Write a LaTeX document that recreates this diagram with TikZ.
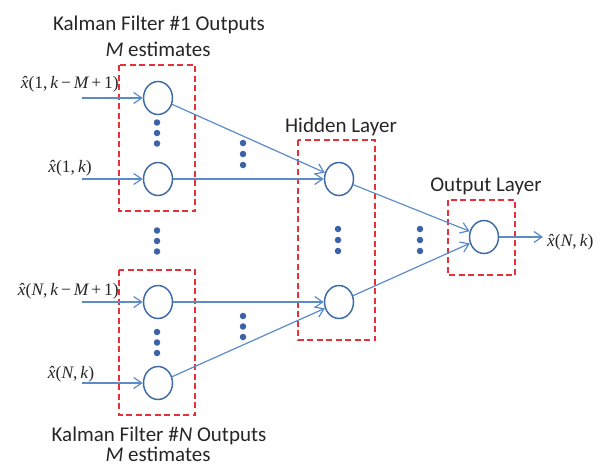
\documentclass[tikz,border=0pt]{standalone}
\usepackage{fontspec}
\setmainfont{Carlito}
\newfontfamily\tms{Liberation Serif}
\usetikzlibrary{arrows.meta,shapes.geometric}
\definecolor{linecol}{HTML}{5B8BC9}
\definecolor{nodecol}{HTML}{3F6CA6}
\definecolor{dotcol}{HTML}{3A62A4}
\definecolor{boxred}{HTML}{E8303A}
\definecolor{txt}{HTML}{262626}
\newcommand{\xh}{\^{x}}
\newcommand{\lbl}[1]{{\tms\itshape #1}}
\begin{document}
\begin{tikzpicture}[x=1pt,y=-1pt,
  neuron/.style={ellipse,draw=nodecol,line width=1.5pt,fill=white,minimum width=29pt,minimum height=33pt,inner sep=0pt},
  conn/.style={draw=linecol,line width=1.2pt,-{Straight Barb[length=8pt,width=11pt,line width=1.2pt]}},
  layerbox/.style={draw=boxred,line width=1.6pt,dash pattern=on 6pt off 3.5pt},
  dotm/.style={circle,fill=dotcol,inner sep=0pt,minimum size=6.5pt},
  title/.style={font=\fontsize{21}{24}\selectfont,text=txt,inner sep=0pt,anchor=base},
  mlabel/.style={font=\fontsize{17.5}{20}\selectfont,text=txt,inner sep=0pt}]
\useasboundingbox (0,0) rectangle (609,466);
% boxes
\draw[layerbox] (119,65) rectangle (195,211);
\draw[layerbox] (119,270) rectangle (195,415);
\draw[layerbox] (298,140) rectangle (375,340);
\draw[layerbox] (448,200) rectangle (515,275);
% neurons
\node[neuron] (i1) at (158,98) {};
\node[neuron] (i2) at (158,179) {};
\node[neuron] (i3) at (158,302) {};
\node[neuron] (i4) at (158,383) {};
\node[neuron] (h1) at (339,179) {};
\node[neuron] (h2) at (339,302) {};
\node[neuron] (o) at (484,237) {};
% input stubs
\coordinate (s1) at (82,98);
\coordinate (s2) at (82,179);
\coordinate (s3) at (82,302);
\coordinate (s4) at (82,383);
\coordinate (oe) at (543,237);
\draw[conn] (s1) -- (i1);
\draw[conn] (s2) -- (i2);
\draw[conn] (s3) -- (i3);
\draw[conn] (s4) -- (i4);
\draw[conn] (i1) -- (h1);
\draw[conn] (i2) -- (h1);
\draw[conn] (i3) -- (h2);
\draw[conn] (i4) -- (h2);
\draw[conn] (h1) -- (o);
\draw[conn] (h2) -- (o);
\draw[conn] (o) -- (oe);
% dots
\foreach \n/\x/\y in {a/157/122.5,b/157/133,c/157/143.5,
  d/157/230.5,e/157/241,f/157/251.5,
  g/157/332,h/157/342.5,i/157/353,
  j/243/143,k/243/154,l/243/165,
  m/243/316,n/243/326.5,p/243/337,
  q/338/229,r/338/240,s/338/251,
  t/420/229,u/420/240,v/420/251}
  \node[dotm] (dot\n) at (\x,\y) {};
% labels
\node[title] (t1) at (159,30) {Kalman Filter \#1 Outputs};
\node[title] (t2) at (158,56) {\textit{M} estimates};
\node[title] (t3) at (159,441) {Kalman Filter \#\textit{N} Outputs};
\node[title] (t4) at (158,461) {\textit{M} estimates};
\node[title] (th) at (341,132) {Hidden Layer};
\node[title] (to) at (486,191) {Output Layer};
\node[mlabel,anchor=base east] (l1) at (119,88) {\lbl{\xh}{\tms(1,\,}\lbl{k}{\tms\,−\,}\lbl{M}{\tms\,+\,1)}};
\node[mlabel,anchor=base] (l2) at (70,172) {\lbl{\xh}{\tms(1,\,}\lbl{k}{\tms)}};
\node[mlabel,anchor=base east] (l3) at (119,295) {\lbl{\xh}{\tms(}\lbl{N}{\tms,\,}\lbl{k}{\tms\,−\,}\lbl{M}{\tms\,+\,1)}};
\node[mlabel,anchor=base] (l4) at (71,378) {\lbl{\xh}{\tms(}\lbl{N}{\tms,\,}\lbl{k}{\tms)}};
\node[mlabel,anchor=base west] (l5) at (547,246) {\lbl{\xh}{\tms(}\lbl{N}{\tms,\,}\lbl{k}{\tms)}};
\end{tikzpicture}
\end{document}
